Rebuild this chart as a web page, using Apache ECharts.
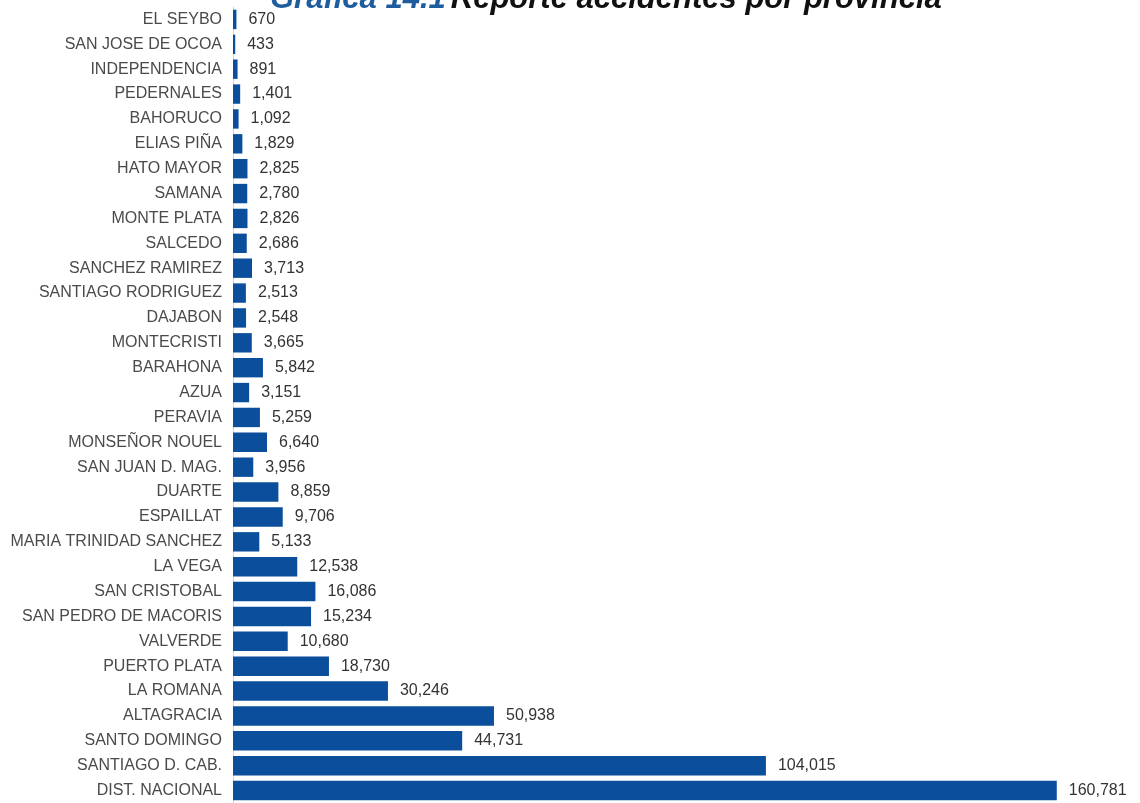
<!DOCTYPE html>
<html>
<head>
<meta charset="utf-8">
<script src="https://cdn.jsdelivr.net/npm/echarts@6/dist/echarts.min.js"></script>
<style>html,body{margin:0;padding:0;background:#fff}#c{width:1140px;height:803px}</style>
</head>
<body>
<div id="c"></div>
<script>
const provinces = ["EL SEYBO","SAN JOSE DE OCOA","INDEPENDENCIA","PEDERNALES","BAHORUCO","ELIAS PIÑA","HATO MAYOR","SAMANA","MONTE PLATA","SALCEDO","SANCHEZ RAMIREZ","SANTIAGO RODRIGUEZ","DAJABON","MONTECRISTI","BARAHONA","AZUA","PERAVIA","MONSEÑOR NOUEL","SAN JUAN D. MAG.","DUARTE","ESPAILLAT","MARIA TRINIDAD SANCHEZ","LA VEGA","SAN CRISTOBAL","SAN PEDRO DE MACORIS","VALVERDE","PUERTO PLATA","LA ROMANA","ALTAGRACIA","SANTO DOMINGO","SANTIAGO D. CAB.","DIST. NACIONAL"];
const accidents = [670,433,891,1401,1092,1829,2825,2780,2826,2686,3713,2513,2548,3665,5842,3151,5259,6640,3956,8859,9706,5133,12538,16086,15234,10680,18730,30246,50938,44731,104015,160781];
const titleBlue = "Gráfica 14.1";
const titleBlack = "Reporte accidentes por provincia";

const chart = echarts.init(document.getElementById('c'), null, {renderer:'canvas'});
chart.setOption({
  animation:false,
  title:{
    text:'{a|'+titleBlue+'} {b|'+titleBlack+'}',
    left:270, top:-16, padding:0,
    textStyle:{rich:{
      a:{fontFamily:'Liberation Sans',fontSize:31,fontWeight:'bold',fontStyle:'italic',color:'#1f5c9e'},
      b:{fontFamily:'Liberation Sans',fontSize:31,fontWeight:'bold',fontStyle:'italic',color:'#111'}
    }}
  },
  grid:{left:233, top:7, width:871, bottom:-6},
  xAxis:{type:'value', min:0, max:170000, show:false},
  yAxis:{type:'category', data:provinces, inverse:true,
    axisLine:{show:true, lineStyle:{color:'#c9d6e6', width:1}},
    axisTick:{show:false},
    axisLabel:{fontFamily:'Liberation Sans', fontSize:16, color:'#4a4a4a', margin:11}
  },
  series:[{
    type:'bar', data:accidents, barCategoryGap:'22%',
    itemStyle:{color:'#0b4f9c'},
    label:{show:true, position:'right', distance:12, fontFamily:'Liberation Sans', fontSize:16, color:'#333',
      formatter:p=>p.value.toLocaleString('en-US')}
  }]
});
</script>
</body>
</html>
